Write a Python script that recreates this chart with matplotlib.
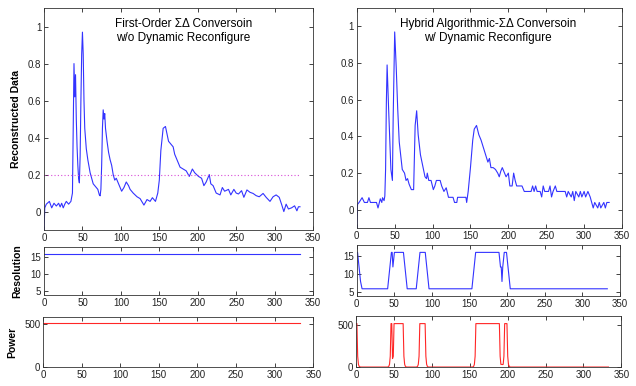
import numpy as np
import matplotlib
matplotlib.use('Agg')
import matplotlib.pyplot as plt

# Dati ricostruiti, conversione Sigma-Delta del primo ordine (senza riconfigurazione)
left_x = [0, 1, 3, 7, 10, 13, 16, 19, 21, 23, 25, 27, 29, 32, 35, 37, 38, 39, 40, 41,
          42, 43, 44, 45, 46, 47, 48, 49, 50, 51, 52, 53, 55, 57, 60, 62, 64, 66, 68, 70,
          72, 73, 74, 75, 76, 77, 78, 79, 80, 82, 84, 86, 88, 90, 92, 94, 97, 101, 104, 107,
          110, 112, 116, 121, 125, 130, 134, 138, 141, 145, 148, 150, 152, 155, 158, 160, 162, 164, 168, 170,
          173, 177, 181, 185, 189, 193, 196, 201, 205, 208, 211, 215, 217, 220, 224, 229, 232, 235, 240, 243,
          247, 250, 253, 257, 260, 264, 268, 272, 276, 280, 285, 289, 294, 298, 302, 306, 309, 312, 315, 318,
          322, 326, 329, 331, 333]
left_y = [-0.1, 0.02, 0.04, 0.055, 0.02, 0.045, 0.03, 0.045, 0.025, 0.045, 0.02, 0.04, 0.055, 0.04, 0.055, 0.1, 0.45, 0.8, 0.62, 0.74,
          0.5, 0.35, 0.25, 0.18, 0.155, 0.3, 0.6, 0.85, 0.97, 0.85, 0.6, 0.45, 0.34, 0.28, 0.21, 0.18, 0.15, 0.14, 0.13, 0.12,
          0.09, 0.085, 0.12, 0.25, 0.45, 0.55, 0.5, 0.53, 0.45, 0.38, 0.32, 0.28, 0.25, 0.2, 0.17, 0.18, 0.15, 0.11, 0.13, 0.16,
          0.14, 0.12, 0.1, 0.08, 0.07, 0.035, 0.065, 0.055, 0.075, 0.055, 0.1, 0.17, 0.33, 0.45, 0.46, 0.42, 0.38, 0.37, 0.35, 0.31,
          0.28, 0.24, 0.23, 0.22, 0.19, 0.23, 0.21, 0.19, 0.18, 0.14, 0.16, 0.2, 0.15, 0.14, 0.1, 0.09, 0.13, 0.11, 0.12, 0.09,
          0.12, 0.1, 0.095, 0.113, 0.077, 0.117, 0.104, 0.098, 0.086, 0.08, 0.098, 0.077, 0.055, 0.08, 0.09, 0.077, 0.04, 0.0, 0.04, 0.014,
          0.02, 0.031, 0.004, 0.026, 0.026]
threshold = 0.195

# Dati ricostruiti, conversione ibrida (con riconfigurazione dinamica)
right_x = [0, 1, 3, 7, 10, 14, 16, 18, 26, 28, 31, 33, 34, 36, 37, 38, 39, 40, 42, 44,
           45, 47, 48, 50, 52, 54, 56, 60, 63, 65, 67, 69, 72, 75, 77, 79, 81, 84, 88, 90,
           92, 93, 95, 98, 101, 103, 105, 110, 112, 115, 118, 121, 127, 129, 132, 133, 144, 145, 147, 150,
           153, 155, 158, 161, 164, 167, 170, 173, 175, 177, 180, 183, 186, 188, 190, 192, 195, 197, 200, 202,
           205, 207, 209, 211, 218, 221, 230, 232, 234, 236, 238, 242, 244, 246, 248, 253, 255, 257, 259, 262,
           264, 275, 277, 279, 283, 285, 287, 289, 293, 295, 297, 300, 302, 305, 308, 310, 312, 314, 318, 320,
           322, 326, 328, 330, 333]
right_y = [-0.1, 0.03, 0.04, 0.066, 0.04, 0.04, 0.066, 0.04, 0.04, 0.01, 0.06, 0.04, 0.066, 0.05, 0.075, 0.22, 0.58, 0.79, 0.55, 0.33,
           0.22, 0.16, 0.5, 0.97, 0.78, 0.55, 0.37, 0.22, 0.2, 0.16, 0.17, 0.14, 0.11, 0.11, 0.46, 0.54, 0.41, 0.3, 0.22, 0.18,
           0.17, 0.2, 0.16, 0.16, 0.11, 0.13, 0.16, 0.16, 0.13, 0.1, 0.12, 0.068, 0.068, 0.04, 0.04, 0.068, 0.068, 0.04, 0.1, 0.23,
           0.38, 0.44, 0.46, 0.41, 0.38, 0.34, 0.3, 0.26, 0.28, 0.23, 0.23, 0.22, 0.2, 0.18, 0.21, 0.23, 0.2, 0.18, 0.2, 0.13,
           0.13, 0.2, 0.16, 0.13, 0.13, 0.1, 0.1, 0.13, 0.1, 0.13, 0.1, 0.1, 0.07, 0.13, 0.1, 0.1, 0.13, 0.07, 0.1, 0.13,
           0.1, 0.1, 0.07, 0.1, 0.07, 0.1, 0.05, 0.1, 0.07, 0.1, 0.07, 0.1, 0.07, 0.1, 0.07, 0.04, 0.01, 0.04, 0.01, 0.04,
           0.01, 0.04, 0.01, 0.04, 0.04]

# Risoluzione e potenza
fixed_x = [0, 333]
fixed_res = [16, 16]
fixed_power = [512, 512]

res_x = [0, 1, 2, 3, 4, 5, 7, 41, 42, 43, 44, 45, 46, 47, 48, 49, 50, 62, 63, 64,
         65, 66, 67, 79, 80, 81, 82, 83, 84, 91, 92, 93, 94, 95, 96, 153, 154, 155, 156, 157,
         158, 189, 190, 191, 192, 193, 194, 195, 196, 199, 200, 201, 202, 203, 204, 333]
res_y = [16, 16, 14, 12, 10, 8, 6, 6, 8, 10, 12, 14, 16, 16, 12, 14, 16, 16, 14, 12,
         10, 8, 6, 6, 8, 10, 12, 14, 16, 16, 14, 12, 10, 8, 6, 6, 8, 10, 12, 14,
         16, 16, 14, 12, 12, 8, 12, 14, 16, 16, 14, 12, 10, 8, 6, 6]
power_y = [512, 512, 128, 32, 8, 2, 0.5, 0.5, 2, 8, 32, 128, 512, 512, 100, 128, 512, 512, 128, 32,
           8, 2, 0.5, 0.5, 2, 8, 32, 128, 512, 512, 128, 32, 8, 2, 0.5, 0.5, 2, 8, 32, 128,
           512, 512, 128, 32, 32, 30, 32, 128, 512, 512, 128, 32, 8, 2, 0.5, 0.5]

plt.rcParams['font.family'] = ['Liberation Sans', 'DejaVu Sans']
plt.rcParams['font.size'] = 7

blue = (0.2, 0.2, 1.0)
red = (1.0, 0.15, 0.15)


def style(ax, ylim, yticks):
    ax.set_xlim(0, 350)
    ax.set_ylim(*ylim)
    ax.set_xticks(range(0, 351, 50))
    ax.set_yticks(yticks)
    ax.tick_params(direction='in', top=True, right=True, length=3, width=0.6,
                   labelsize=7, pad=2, colors='#222222')
    for s in ax.spines.values():
        s.set_linewidth(0.6)
        s.set_color('#333333')


fig = plt.figure(figsize=(6.36, 3.86), dpi=100)

ax1 = fig.add_axes([0.0692, 0.404, 0.423, 0.575])
ax1.plot(left_x, left_y, color=blue, lw=0.8)
ax1.plot(fixed_x, [threshold, threshold], color=(0.85, 0.3, 0.85), lw=0.8, linestyle=(0, (1, 2)))
style(ax1, (-0.1, 1.1), [0, 0.2, 0.4, 0.6, 0.8, 1])
ax1.set_yticklabels(['0', '0.2', '0.4', '0.6', '0.8', '1'])
ax1.text(181, 0.975, 'First-Order \u03a3\u0394 Conversoin\nw/o Dynamic Reconfigure',
         ha='center', va='center', fontsize=8.5, linespacing=1.25)
ax1.set_ylabel('Reconstructed Data', fontweight='bold', fontsize=7.5)
ax1.yaxis.set_label_coords(-0.085, 0.5)

ax2 = fig.add_axes([0.561, 0.409, 0.417, 0.570])
ax2.plot(right_x, right_y, color=blue, lw=0.8)
style(ax2, (-0.1, 1.1), [0, 0.2, 0.4, 0.6, 0.8, 1])
ax2.set_yticklabels(['0', '0.2', '0.4', '0.6', '0.8', '1'])
ax2.text(173, 0.975, 'Hybrid Algorithmic-\u03a3\u0394 Conversoin\nw/ Dynamic Reconfigure',
         ha='center', va='center', fontsize=8.5, linespacing=1.25)

ax3 = fig.add_axes([0.0692, 0.236, 0.423, 0.124])
ax3.plot(fixed_x, fixed_res, color=blue, lw=0.8)
style(ax3, (4, 18), [5, 10, 15])
ax3.set_ylabel('Resolution', fontweight='bold', fontsize=7.5)
ax3.yaxis.set_label_coords(-0.082, 0.5)

ax4 = fig.add_axes([0.561, 0.233, 0.414, 0.132])
ax4.plot(res_x, res_y, color=blue, lw=0.8)
style(ax4, (4, 18), [5, 10, 15])

ax5 = fig.add_axes([0.0676, 0.049, 0.425, 0.130])
ax5.plot(fixed_x, fixed_power, color=red, lw=0.8)
style(ax5, (0, 580), [0, 500])
ax5.set_ylabel('Power', fontweight='bold', fontsize=7.5)
ax5.yaxis.set_label_coords(-0.097, 0.5)

ax6 = fig.add_axes([0.560, 0.049, 0.417, 0.132])
ax6.plot(res_x, power_y, color=red, lw=0.8)
style(ax6, (0, 600), [0, 500])

fig.savefig('out.png', dpi=100)
